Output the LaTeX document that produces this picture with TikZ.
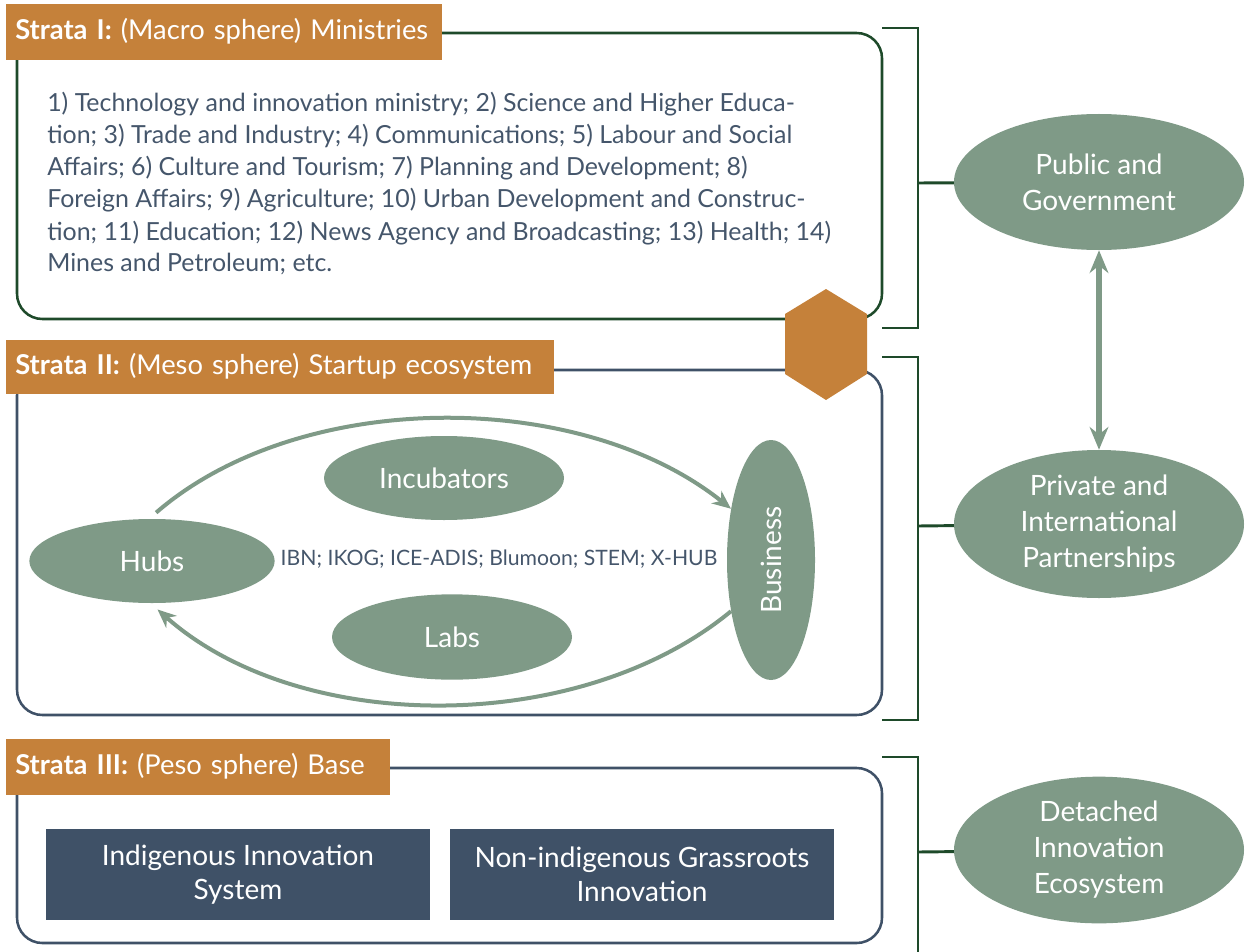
\documentclass[tikz,border=0pt]{standalone}
\usepackage{fontspec}
\setmainfont{Lato}
\usetikzlibrary{arrows.meta,shapes.geometric}
\definecolor{ochre}{HTML}{C5813A}
\definecolor{sage}{HTML}{7F9A87}
\definecolor{pine}{HTML}{1E4A2A}
\definecolor{slate}{HTML}{3F5167}
\definecolor{ink}{HTML}{45566B}
\begin{document}
\begin{tikzpicture}[x=0.75pt, y=-0.75pt,
        stratum/.style={line width=1.9pt, rounded corners=19pt},
        strata/.style={fill=ochre, text=white, anchor=north west, inner xsep=6.75pt,
            minimum height=42pt, text height=1.15em, text depth=0pt, align=left,
            font=\fontsize{20.5}{24}\selectfont},
        blob/.style={ellipse, fill=sage, text=white, inner sep=0pt, align=center,
            font=\fontsize{21}{27}\selectfont},
        base/.style={fill=slate, text=white, align=center, minimum width=288pt,
            minimum height=68pt, font=\fontsize{21}{25.5}\selectfont},
        flow/.style={draw=sage, line width=3pt, -{Stealth[length=14pt,width=12pt]}},
        bracket/.style={draw=pine, line width=2.2pt}]
    \useasboundingbox (0,0) rectangle (1248,952);
    % strata boxes
    \draw[stratum, pine]  (17,33) rectangle (882,319);
    \draw[stratum, slate] (17,370) rectangle (882,715);
    \draw[stratum, slate] (17,768) rectangle (882,943);
    \node[strata, text width=313.5pt] (head-I) at (6,4) {\textbf{Strata I:} (Macro sphere) Ministries};
    \node[strata, text width=397.5pt, minimum height=40.5pt] (head-II) at (6,340) {\textbf{Strata II:} (Meso sphere) Startup ecosystem};
    \node[strata, text width=274.5pt] (head-III) at (6,739) {\textbf{Strata III:} (Peso sphere) Base};
    \fill[ochre] (826,289) -- (867,314) -- (867,374) -- (826,400) -- (785,374) -- (785,314) -- cycle;
    % ministries
    \node[anchor=base west, align=left, text=ink, inner sep=0pt,
          font=\fontsize{18.7}{24}\selectfont] (ministries) at (47,272)
        {1) Technology and innovation ministry; 2) Science and Higher Educa-\\
         tion; 3) Trade and Industry; 4) Communications; 5) Labour and Social\\
         Affairs; 6) Culture and Tourism; 7) Planning and Development; 8)\\
         Foreign Affairs; 9) Agriculture; 10) Urban Development and Construc-\\
         tion; 11) Education; 12) News Agency and Broadcasting; 13) Health; 14)\\
         Mines and Petroleum; etc.};
    % startup ecosystem
    \node[blob, minimum width=184pt, minimum height=63pt] (hubs) at (152,561) {Hubs};
    \node[blob, minimum width=180pt, minimum height=63pt] (incubators) at (444,478) {Incubators};
    \node[blob, minimum width=180pt, minimum height=64pt] (labs) at (452,637) {Labs};
    \node[blob, minimum width=66pt, minimum height=180pt] (business) at (771,560) {\rotatebox{90}{Business}};
    \node[text=ink, font=\fontsize{15.9}{19}\selectfont] (members) at (499,559) {IBN; IKOG; ICE-ADIS; Blumoon; STEM; X-HUB};
    \draw[flow, shorten <=7pt] (hubs.94) .. controls (300,388) and (580,388) .. (business.128);
    \draw[flow, shorten >=7pt] (business.232) .. controls (580,736) and (300,736) .. (hubs.268);
    % base
    \node[base] (indigenous) at (238,874.5) {Indigenous Innovation\\System};
    \node[base] (grassroots) at (642,874.5) {Non-indigenous Grassroots\\Innovation};
    % spheres on the right
    \node[blob, minimum width=217.5pt, minimum height=102pt] (pub) at (1099,182) {Public and\\Government};
    \node[blob, minimum width=217.5pt, minimum height=111pt] (priv) at (1099,524) {Private and\\International\\Partnerships};
    \node[blob, minimum width=217.5pt, minimum height=110pt] (det) at (1099,850) {Detached\\Innovation\\Ecosystem};
    \foreach \top/\bot/\mid/\name in {28/328/183/pub, 357/720/526/priv, 757/970/852/det} {
        \draw[bracket] (882,\top) -- (918,\top) -- (918,\bot) -- (882,\bot);
        \coordinate (tick-\name) at (918,\mid);
        \draw[bracket] (tick-\name) -- (\name);
    }
    \draw[flow, line width=3.8pt, {Stealth[length=17pt,width=14pt]}-{Stealth[length=17pt,width=14pt]}] (pub) -- (priv);
\end{tikzpicture}
\end{document}
